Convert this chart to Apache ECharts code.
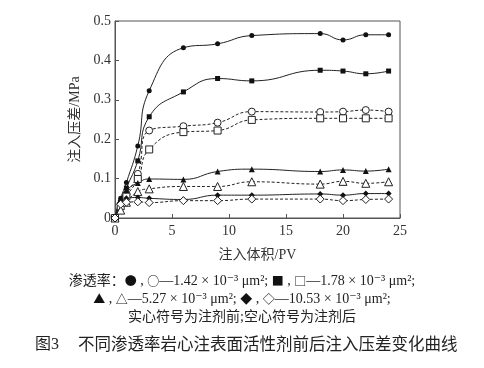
<!DOCTYPE html>
<html><head><meta charset="utf-8">
<script src="https://cdn.jsdelivr.net/npm/echarts@6/dist/echarts.min.js"></script>
<style>html,body{margin:0;padding:0;background:#fff}#c{width:484px;height:368px}</style>
</head><body><div id="c"></div>
<script>
const xPV = [0, 0.5, 1, 2, 3, 6, 9, 12, 18, 20, 22, 24];
const s142Before = [0, 0.05, 0.09, 0.183, 0.323, 0.432, 0.442, 0.463, 0.468, 0.452, 0.465, 0.465];
const s142After  = [0, 0.035, 0.06, 0.112, 0.222, 0.233, 0.242, 0.27, 0.269, 0.27, 0.274, 0.27];
const s178Before = [0, 0.04, 0.076, 0.145, 0.257, 0.32, 0.354, 0.348, 0.375, 0.373, 0.366, 0.373];
const s178After  = [0, 0.03, 0.055, 0.099, 0.174, 0.218, 0.222, 0.249, 0.253, 0.253, 0.253, 0.253];
const s527Before = [0, 0.045, 0.07, 0.089, 0.099, 0.098, 0.118, 0.124, 0.118, 0.122, 0.119, 0.124];
const s527After  = [0, 0.02, 0.04, 0.067, 0.074, 0.08, 0.08, 0.092, 0.086, 0.093, 0.088, 0.092];
const s1053Before = [0, 0.045, 0.05, 0.052, 0.05, 0.047, 0.058, 0.058, 0.061, 0.058, 0.062, 0.062];
const s1053After  = [0, 0.035, 0.04, 0.041, 0.039, 0.044, 0.044, 0.048, 0.048, 0.044, 0.047, 0.048];
const xTicks = [0, 5, 10, 15, 20, 25];
const yTicks = [0, 0.1, 0.2, 0.3, 0.4, 0.5];
const xName = '注入体积/PV';
const yName = '注入压差/MPa';
const captionLines = [
  '渗透率：{s|●} , {s|○}—1.42 × 10⁻³ μm²; {s|■} , {s|□}—1.78 × 10⁻³ μm²;',
  '{s|▲} , {s|△}—5.27 × 10⁻³ μm²; {s|◆} , {s|◇}—10.53 × 10⁻³ μm²;',
  '实心符号为注剂前;空心符号为注剂后'
];
const figNo = '图3';
const figTitle = '不同渗透率岩心注表面活性剂前后注入压差变化曲线';

const FONT = '"Liberation Serif","DejaVu Serif","Noto Sans CJK SC",serif';
const TXT = '#333';
function pairs(v){ return xPV.map((x,i)=>[x, v[i]]); }
function ser(v, filled, sym, size){
  return {
    type:'line', data: pairs(v), smooth: true, symbol: sym, symbolSize: size,
    lineStyle:{color:'#222', width:1, type: filled ? 'solid' : [3,2]},
    itemStyle:{color: filled ? '#111' : '#fff', borderColor:'#222', borderWidth: filled?0:1},
    showAllSymbol:true
  };
}
function cap(i, top){
  return {type:'text', left:'center', top:top, style:{text:captionLines[i], font:'14px '+FONT, fill:'#222',
    rich:{s:{fontFamily:'"Noto Sans CJK SC"', fontSize:12, fill:'#111'}}}};
}
const chart = echarts.init(document.getElementById('c'), null, {renderer:'canvas'});
chart.setOption({
  animation:false,
  backgroundColor:'#fff',
  grid:{left:115, top:21, right:84, bottom:150, show:true, borderColor:'#555', borderWidth:1},
  xAxis:{type:'value', min:0, max:25, interval:5,
    name:xName, nameLocation:'middle', nameGap:30,
    nameTextStyle:{fontFamily:FONT, fontSize:14, color:TXT},
    axisLine:{show:true, lineStyle:{color:'#555'}},
    axisTick:{inside:true, length:4, lineStyle:{color:'#555'}},
    axisLabel:{fontFamily:FONT, fontSize:14, color:TXT, margin:6},
    splitLine:{show:false}},
  yAxis:{type:'value', min:0, max:0.5, interval:0.1,
    name:yName, nameLocation:'middle', nameGap:27,
    nameTextStyle:{fontFamily:FONT, fontSize:14, color:TXT},
    axisLine:{show:true, lineStyle:{color:'#555'}},
    axisTick:{inside:true, length:4, lineStyle:{color:'#555'}},
    axisLabel:{fontFamily:FONT, fontSize:14, color:TXT, margin:4,
      formatter:function(v){ return v===0 ? '0' : v.toFixed(1); }},
    splitLine:{show:false}},
  series:[
    ser(s142Before, true, 'circle', 5),
    ser(s142After, false, 'circle', 7),
    ser(s178Before, true, 'rect', 5),
    ser(s178After, false, 'rect', 7),
    ser(s527Before, true, 'triangle', 6),
    ser(s527After, false, 'triangle', 8),
    ser(s1053Before, true, 'diamond', 6),
    ser(s1053After, false, 'diamond', 8)
  ],
  graphic:[
    cap(0, 274), cap(1, 292), cap(2, 310),
    {type:'text', x:35, y:337, style:{text:figNo, font:'16px '+FONT, fill:'#222'}},
    {type:'text', x:78, y:337, style:{text:figTitle, font:'16.5px '+FONT, fill:'#222'}}
  ]
});
</script></body></html>
